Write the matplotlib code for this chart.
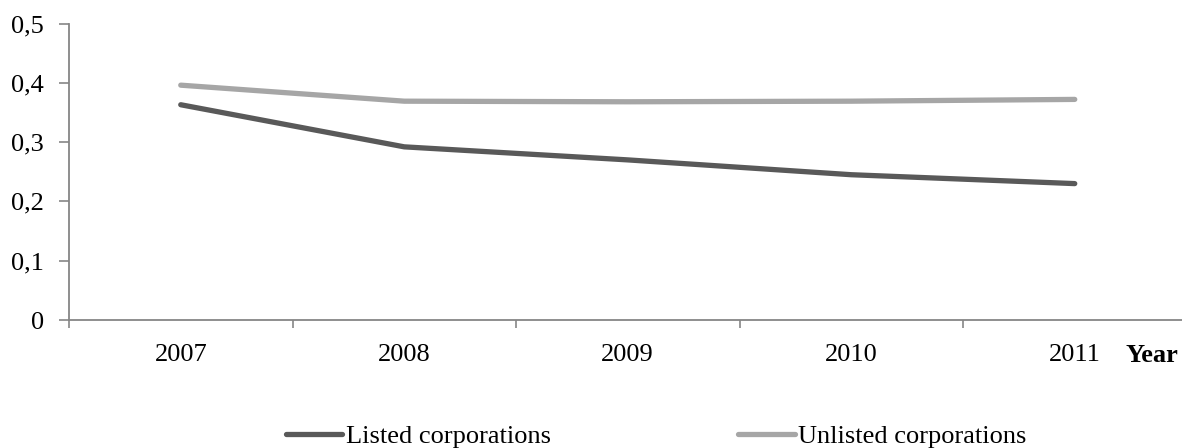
import matplotlib
matplotlib.use("Agg")
import matplotlib.pyplot as plt
from matplotlib.lines import Line2D
from matplotlib.ticker import FuncFormatter

years = ["2007", "2008", "2009", "2010", "2011"]
listed = [0.363, 0.292, 0.270, 0.245, 0.230]
unlisted = [0.396, 0.369, 0.368, 0.369, 0.372]
y_ticks = [0, 0.1, 0.2, 0.3, 0.4, 0.5]

W, H, DPI = 1182, 448, 100
plt.rcParams["font.family"] = ["Liberation Serif", "DejaVu Serif"]
plt.rcParams["font.size"] = 19

fig = plt.figure(figsize=(W / DPI, H / DPI), dpi=DPI)
left, right, top, bottom = 69, 1182, 23.5, 320
ax = fig.add_axes([left / W, 1 - bottom / H, (right - left) / W, (bottom - top) / H])

dark = "#595959"
light = "#a6a6a6"
axis_col = "#868686"

x = range(len(years))
ax.plot(x, listed, color=dark, lw=3.8, solid_capstyle="round")
ax.plot(x, unlisted, color=light, lw=3.8, solid_capstyle="round")

cat_w = 223.5
ax.set_xlim(-0.5, -0.5 + (right - left) / cat_w)
ax.set_ylim(0, 0.5)
ax.set_yticks(y_ticks)
ax.yaxis.set_major_formatter(FuncFormatter(lambda v, _: f"{v:g}".replace(".", ",")))

# category labels at centers, tick marks on boundaries
ax.set_xticks([i - 0.5 for i in range(len(years))])
ax.set_xticklabels([])
ax.set_xticks(list(x), minor=True)
ax.set_xticklabels(years, minor=True)
ax.tick_params(axis="x", which="minor", length=0, pad=17)
ax.tick_params(axis="x", which="major", length=6, width=1.2, color=axis_col)
ax.tick_params(axis="y", length=7, width=1.2, color=axis_col, pad=11)

for s in ["top", "right"]:
    ax.spines[s].set_visible(False)
for s in ["left", "bottom"]:
    ax.spines[s].set_color(axis_col)
    ax.spines[s].set_linewidth(1.3)

fig.text(1125 / W, 1 - 356 / H, "Year", fontweight="bold", ha="left", va="center")

handles = [Line2D([], [], color=dark, lw=3.8, solid_capstyle="round"),
           Line2D([], [], color=light, lw=3.8, solid_capstyle="round")]
fig.legend(handles, ["Listed corporations", "Unlisted corporations"],
           loc="center", bbox_to_anchor=(656 / W, 1 - 436 / H), ncol=2,
           frameon=False, handlelength=2.15, handletextpad=0.12,
           columnspacing=7.1, borderaxespad=0, borderpad=0)

fig.savefig("out.png", dpi=DPI)
